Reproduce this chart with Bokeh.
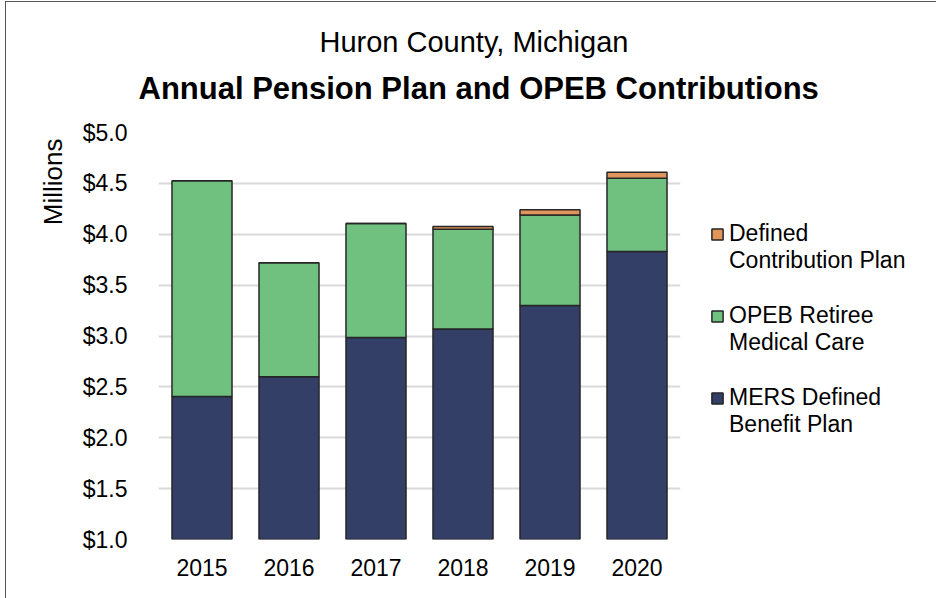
from bokeh.plotting import figure
from bokeh.models import (ColumnDataSource, Legend, LegendItem, Title,
                          NumeralTickFormatter, FixedTicker, Range1d)
from bokeh.embed import file_html
from bokeh.resources import INLINE

years = ["2015", "2016", "2017", "2018", "2019", "2020"]
mers = [2.405, 2.60, 2.985, 3.07, 3.30, 3.83]
opeb = [2.12, 1.12, 1.12, 0.98, 0.89, 0.72]
dc = [0.0, 0.0, 0.0, 0.025, 0.05, 0.06]
series = ["mers", "opeb", "dc"]
series_labels = ["MERS Defined\nBenefit Plan", "OPEB Retiree\nMedical Care", "Defined\nContribution Plan"]
colors = ["#343F68", "#70C17F", "#E0965A"]
y_ticks = [1.0, 1.5, 2.0, 2.5, 3.0, 3.5, 4.0, 4.5, 5.0]
title_1 = "Huron County, Michigan"
title_2 = "Annual Pension Plan and OPEB Contributions"
y_label = "Millions"

FONT = "Liberation Sans"

src = ColumnDataSource(dict(years=years, mers=mers, opeb=opeb, dc=dc))

p = figure(x_range=years, y_range=Range1d(1.0, 5.0), frame_width=522, frame_height=407,
           output_backend="svg", toolbar_location=None,
           min_border_left=152, min_border_right=248, min_border_top=130,
           min_border_bottom=59)
p.styles = {"border-top": "1.5px solid #555", "border-left": "1.5px solid #555",
            "border-right": "1.5px solid #555", "margin-left": "5px",
            "margin-top": "1px"}
p.outline_line_color = None

rs = p.vbar_stack(series, x="years", width=0.69, source=src, color=colors,
                  line_color="#262626", line_width=1.5)

p.xgrid.grid_line_color = None
p.ygrid.grid_line_color = "#D9D9D9"
p.ygrid.grid_line_width = 2

p.yaxis.ticker = FixedTicker(ticks=y_ticks)
p.yaxis.formatter = NumeralTickFormatter(format="$0.0")
for ax in (p.xaxis[0], p.yaxis[0]):
    ax.axis_line_color = None
    ax.major_tick_line_color = None
    ax.minor_tick_line_color = None
    ax.major_label_text_font = FONT
    ax.major_label_text_font_size = "23px"
    ax.major_label_text_color = "#000000"
p.yaxis.major_label_standoff = 25
p.xaxis.major_label_standoff = 13

t2 = Title(text=title_2, align="left", offset=-20, text_font=FONT,
           text_font_size="31px", text_font_style="bold", text_color="#000000",
           standoff=53)
t1 = Title(text=title_1, align="left", offset=161, text_font=FONT,
           text_font_size="29px", text_font_style="normal", text_color="#000000",
           standoff=-31)
p.add_layout(t2, "above")
p.add_layout(t1, "above")

ty = Title(text=y_label, align="right", offset=6, text_font=FONT,
           text_font_size="26px", text_font_style="normal", text_color="#000000",
           standoff=23)
p.add_layout(ty, "left")

# leading blank line so that each swatch sits beside the first line of its label
items = [LegendItem(label="\n" + series_labels[i], renderers=[rs[i]]) for i in (2, 1, 0)]
legend = Legend(items=items, location=(30, 101), label_text_font=FONT,
                label_text_font_size="23px", label_text_color="#000000",
                label_text_line_height=1.34,
                glyph_width=14, glyph_height=14,
                spacing=1, border_line_color=None, background_fill_alpha=0,
                label_standoff=5, padding=0, margin=0)
p.add_layout(legend, "right")

open("out.html", "w").write(file_html(p, INLINE))
